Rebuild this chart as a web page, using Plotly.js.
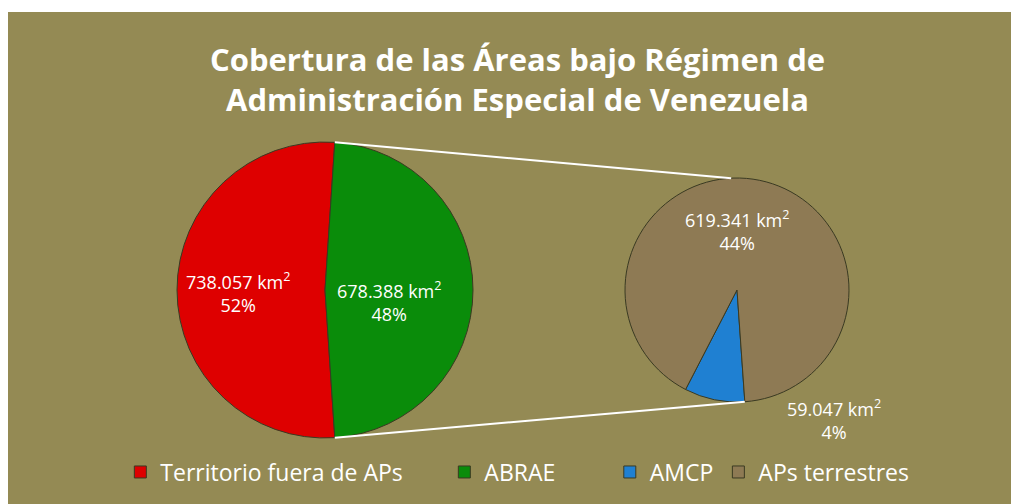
<!DOCTYPE html>
<html>
<head>
<meta charset="utf-8">
<script src="https://cdn.plot.ly/plotly-3.0.1.min.js"></script>
<style>
  html, body { margin: 0; padding: 0; background: #ffffff; width: 1011px; height: 504px; overflow: hidden; }
  #chart { position: absolute; left: 8px; top: 12px; width: 1003px; height: 492px; }
</style>
</head>
<body>
<div id="chart"></div>
<script>
// ---- data ----
const mainLabels = ['Territorio fuera de APs', 'ABRAE'];
const mainValues = [738057, 678388];
const secLabels = ['AMCP', 'APs terrestres'];
const secValues = [59047, 619341];
const mainColors = ['#DE0000', '#0A8C0A'];
const secColors = ['#1F80D2', '#8E7A54'];
const titleLines = ['Cobertura de las Áreas bajo Régimen de', 'Administración Especial de Venezuela'];

// ---- helpers ----
const W = 1003, H = 492;
const total = mainValues.reduce((a, b) => a + b, 0);
function fmt(v) { return String(v).replace(/\B(?=(\d{3})+(?!\d))/g, '.'); }
function pct(v) { return Math.round(100 * v / total) + '%'; }
function lbl(v) { return fmt(v) + ' km<sup>2</sup><br>' + pct(v); }

// pie geometry (pixels within the chart div)
const mainGeo = { cx: 317, cy: 278, r: 148 };
const secGeo = { cx: 729, cy: 278, r: 112 };
function domainOf(g) {
  return { x: [(g.cx - g.r) / W, (g.cx + g.r) / W], y: [1 - (g.cy + g.r) / H, 1 - (g.cy - g.r) / H] };
}
function pt(g, angDeg, f) {
  const a = angDeg * Math.PI / 180;
  return { x: (g.cx + f * g.r * Math.sin(a)) / W, y: 1 - (g.cy - f * g.r * Math.cos(a)) / H };
}
function off(g, fx, fy) { return { x: (g.cx + fx * g.r) / W, y: 1 - (g.cy + fy * g.r) / H }; }

// ABRAE slice centred at 3 o'clock
const abraeSpan = 360 * mainValues[1] / total;
const mainRot = 90 + abraeSpan / 2;          // start of red slice (clockwise)
const abraeStart = mainRot + 360 * mainValues[0] / total; // = top boundary
const secRot = 176;

const traces = [
  {
    type: 'pie', labels: mainLabels, values: mainValues, sort: false,
    direction: 'clockwise', rotation: mainRot, domain: domainOf(mainGeo),
    marker: { colors: mainColors, line: { color: '#3a3a22', width: 1 } },
    textinfo: 'none', hoverinfo: 'label+value+percent', legend: 'legend'
  },
  {
    type: 'pie', labels: secLabels, values: secValues, sort: false,
    direction: 'clockwise', rotation: secRot, domain: domainOf(secGeo),
    marker: { colors: secColors, line: { color: '#3a3a22', width: 1 } },
    textinfo: 'none', hoverinfo: 'label+value', legend: 'legend2'
  }
];

const topMain = pt(mainGeo, abraeStart, 1);
const botMain = pt(mainGeo, mainRot, 1);
const topSec = pt(secGeo, 357, 1);
const botSec = pt(secGeo, secRot, 1);

const labelPos = [
  off(mainGeo, -0.59, 0.02),
  off(mainGeo, 0.43, 0.08),
  off(secGeo, 0.87, 1.16),
  off(secGeo, 0.0, -0.53)
];
const labelVals = [mainValues[0], mainValues[1], secValues[0], secValues[1]];

const annotations = labelVals.map((v, i) => ({
  x: labelPos[i].x, y: labelPos[i].y, xref: 'paper', yref: 'paper',
  text: lbl(v), showarrow: false, xanchor: 'center', yanchor: 'middle',
  font: { family: 'Open Sans, sans-serif', size: 18, color: '#ffffff' }
}));

const legendFont = { family: 'Open Sans, sans-serif', size: 23, color: '#ffffff' };

const layout = {
  width: W, height: H,
  margin: { l: 0, r: 0, t: 0, b: 0 },
  paper_bgcolor: '#948A54',
  title: {
    text: '<b>' + titleLines.join('<br>') + '</b>',
    x: 0.508, xanchor: 'center', y: 0.88, yanchor: 'middle',
    font: { family: 'Open Sans, sans-serif', size: 31, color: '#ffffff' }
  },
  showlegend: true,
  legend: {
    orientation: 'h', x: 0.112, xanchor: 'left', y: 0.065, yanchor: 'middle',
    entrywidth: 279, entrywidthmode: 'pixels',
    font: legendFont, bgcolor: 'rgba(0,0,0,0)'
  },
  legend2: {
    orientation: 'h', x: 0.600, xanchor: 'left', y: 0.065, yanchor: 'middle',
    font: legendFont, bgcolor: 'rgba(0,0,0,0)'
  },
  shapes: [
    { type: 'line', xref: 'paper', yref: 'paper', x0: topMain.x, y0: topMain.y, x1: topSec.x, y1: topSec.y, line: { color: '#ffffff', width: 2 } },
    { type: 'line', xref: 'paper', yref: 'paper', x0: botMain.x, y0: botMain.y, x1: botSec.x, y1: botSec.y, line: { color: '#ffffff', width: 2 } }
  ],
  annotations: annotations
};

Plotly.newPlot('chart', traces, layout, { displayModeBar: false, staticPlot: true });
</script>
</body>
</html>
